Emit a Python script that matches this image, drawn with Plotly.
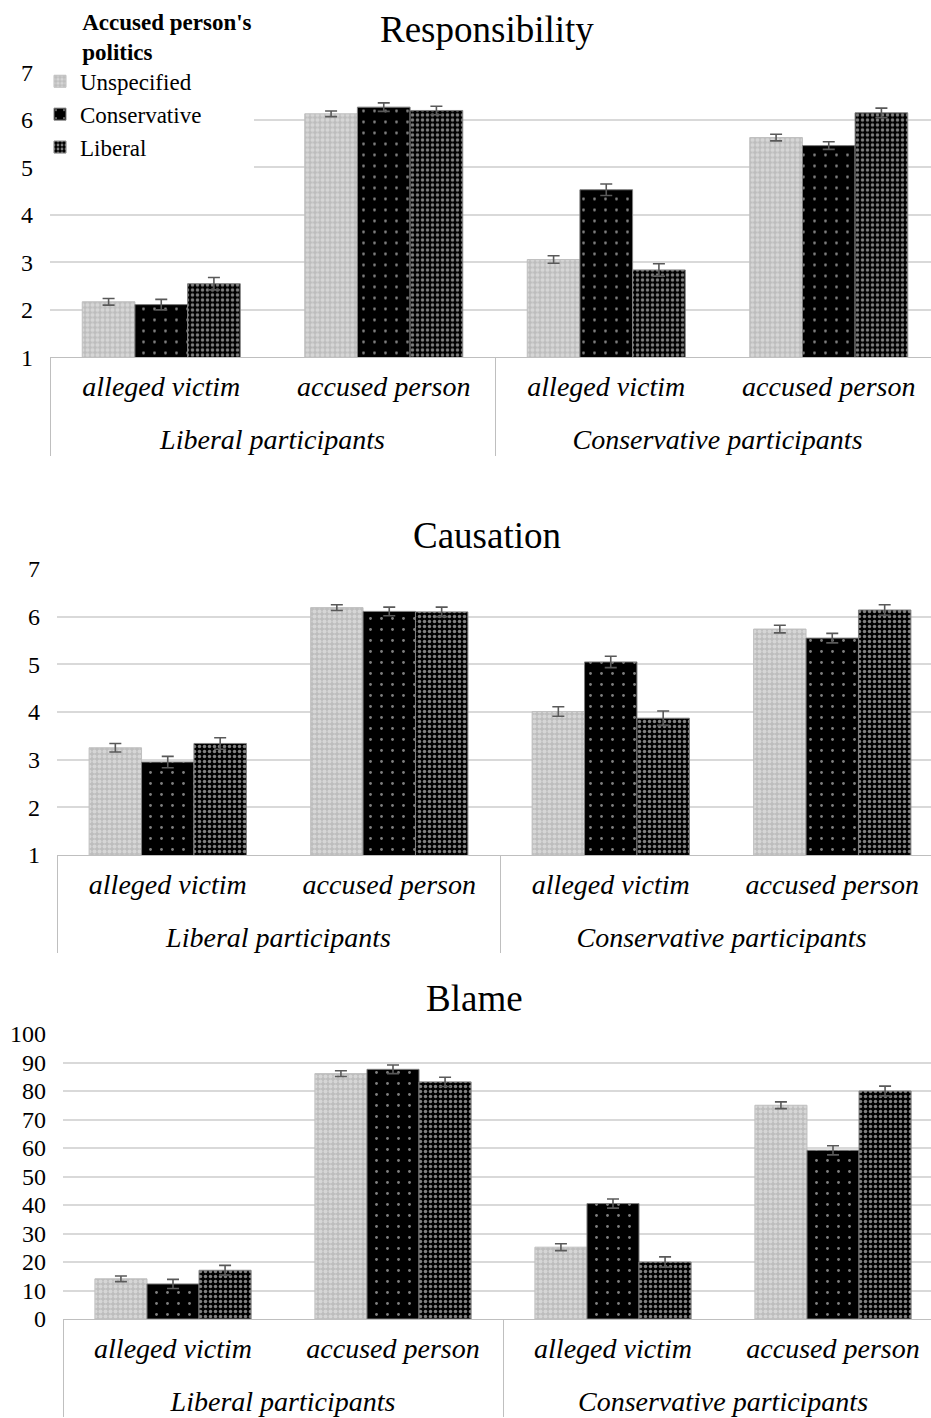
import plotly.graph_objects as go

# Category levels shared by the three panels
participants = ["Liberal participants", "Liberal participants",
                "Conservative participants", "Conservative participants"]
targets = ["alleged victim", "accused person", "alleged victim", "accused person"]
series_names = ["Unspecified", "Conservative", "Liberal"]

# Responsibility (1-7)
resp_unspecified = [2.17, 6.13, 3.06, 5.63]
resp_conservative = [2.11, 6.27, 4.53, 5.46]
resp_liberal = [2.55, 6.20, 2.84, 6.15]
resp_unspecified_se = [0.07, 0.06, 0.08, 0.07]
resp_conservative_se = [0.11, 0.09, 0.12, 0.08]
resp_liberal_se = [0.13, 0.09, 0.13, 0.10]

# Causation (1-7)
caus_unspecified = [3.25, 6.19, 4.01, 5.74]
caus_conservative = [2.95, 6.11, 5.05, 5.55]
caus_liberal = [3.34, 6.10, 3.87, 6.14]
caus_unspecified_se = [0.09, 0.06, 0.10, 0.08]
caus_conservative_se = [0.12, 0.09, 0.12, 0.10]
caus_liberal_se = [0.12, 0.10, 0.15, 0.11]

# Blame (0-100)
blame_unspecified = [14.1, 86.1, 25.2, 75.0]
blame_conservative = [12.3, 87.6, 40.5, 59.2]
blame_liberal = [17.1, 83.2, 20.0, 80.0]
blame_unspecified_se = [1.0, 1.0, 1.2, 1.2]
blame_conservative_se = [1.6, 1.5, 1.6, 1.6]
blame_liberal_se = [1.7, 1.6, 1.8, 1.7]

W, H = 931, 1418
SERIF = "Liberation Serif, Times New Roman, serif"


def label(text):
    return "<span style='font-size:28px'>" + text + "</span>"


# An empty second line under each inner label widens the gap
# between the two category levels of the axis.
SPACER = "<br><span style='font-size:4px'>&nbsp;</span>"
inner_labels = [label(t) + SPACER for t in targets]
outer_labels = [label(t) for t in participants]

styles = {
    "Unspecified": dict(color="#bdbdbd", line=dict(color="#bfbfbf", width=1),
                        pattern=dict(shape=".", fgcolor="#efefef", size=5,
                                     solidity=0.5, fillmode="overlay")),
    "Conservative": dict(color="#000000", line=dict(color="#7f7f7f", width=1),
                         pattern=dict(shape=".", fgcolor="#ffffff", size=11,
                                      solidity=0.05, fillmode="overlay")),
    "Liberal": dict(color="#000000", line=dict(color="#7f7f7f", width=1),
                    pattern=dict(shape=".", fgcolor="#ffffff", size=5,
                                 solidity=0.38, fillmode="overlay")),
}

panels = [
    ("Responsibility", [resp_unspecified, resp_conservative, resp_liberal],
     [resp_unspecified_se, resp_conservative_se, resp_liberal_se],
     dict(top=72.5, bottom=357.3, left=50, catw=222.5, yr=[1, 7], dtick=1, title_y=30, title_x=487)),
    ("Causation", [caus_unspecified, caus_conservative, caus_liberal],
     [caus_unspecified_se, caus_conservative_se, caus_liberal_se],
     dict(top=569, bottom=855, left=57, catw=221.5, yr=[1, 7], dtick=1, title_y=535, title_x=487)),
    ("Blame", [blame_unspecified, blame_conservative, blame_liberal],
     [blame_unspecified_se, blame_conservative_se, blame_liberal_se],
     dict(top=1034, bottom=1319, left=63, catw=220, yr=[0, 100], dtick=10, title_y=998, title_x=474)),
]

fig = go.Figure()
annotations = []
layout_axes = {}

for p, (title, values, errors, g) in enumerate(panels):
    sfx = "" if p == 0 else str(p + 1)
    for name, vals, errs in zip(series_names, values, errors):
        fig.add_trace(go.Bar(
            name=name, x=[outer_labels, inner_labels], y=vals,
            xaxis="x" + sfx, yaxis="y" + sfx,
            marker=styles[name],
            error_y=dict(type="data", array=errs, color="#595959",
                         thickness=1.6, width=6),
            showlegend=(p == 0),
        ))
    right_edge = g["left"] + 4 * g["catw"]
    xmax = 3.5 - (right_edge - W) / g["catw"]
    layout_axes["xaxis" + sfx] = dict(
        domain=[g["left"] / W, 1], anchor="y" + sfx, type="multicategory",
        range=[-0.5, xmax], showline=True, linecolor="#bfbfbf", linewidth=1.3,
        showgrid=False, ticks="",
        tickfont=dict(family=SERIF, size=25, color="#000000", style="italic"),
        showdividers=True, dividercolor="#bfbfbf", dividerwidth=1.3,
        ticklabelstandoff=8,
    )
    layout_axes["yaxis" + sfx] = dict(
        domain=[1 - g["bottom"] / H, 1 - g["top"] / H], anchor="x" + sfx,
        range=g["yr"], dtick=g["dtick"], showgrid=True, gridcolor="#d9d9d9",
        gridwidth=1.5, zeroline=False, showline=False, ticks="",
        tickfont=dict(family=SERIF, size=24, color="#000000"),
        ticklabelstandoff=16,
    )
    annotations.append(dict(
        text=title, xref="paper", yref="paper", x=g["title_x"] / W, y=1 - g["title_y"] / H,
        xanchor="center", yanchor="middle", showarrow=False,
        font=dict(family=SERIF, size=37, color="#000000"),
    ))

INDENT = "&nbsp;" * 7
fig.update_layout(
    width=W, height=H, margin=dict(l=0, r=0, t=0, b=0, autoexpand=False),
    paper_bgcolor="white", plot_bgcolor="white",
    barmode="group", bargap=0.29, bargroupgap=0,
    annotations=annotations,
    legend=dict(
        x=40 / W, y=1, xanchor="left", yanchor="top",
        bgcolor="white", borderwidth=0, itemwidth=30,
        title=dict(text="<b>" + INDENT + "Accused person's<br>" + INDENT + "politics</b>",
                   font=dict(family=SERIF, size=23, color="#000000")),
        font=dict(family=SERIF, size=23, color="#000000"),
        tracegroupgap=0,
    ),
    **layout_axes,
)

fig.write_html("out.html")
